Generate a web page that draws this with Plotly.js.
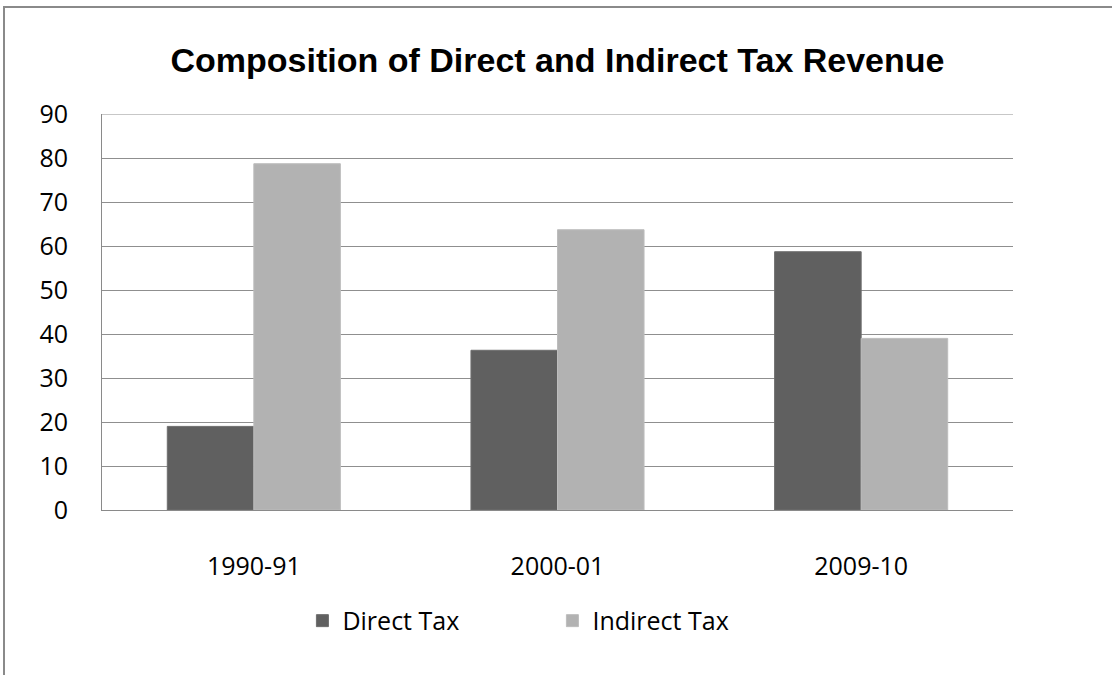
<!DOCTYPE html>
<html>
<head>
<meta charset="utf-8">
<script src="https://cdn.plot.ly/plotly-3.0.1.min.js"></script>
<style>
  html, body { margin: 0; padding: 0; background: #fff; }
  #wrap { position: relative; width: 1112px; height: 675px; }
  #chart { width: 1112px; height: 675px; }
  #frame { position: absolute; left: 3px; top: 6px; width: 1109px; height: 669px;
           border-top: 2px solid #8a8a8a; border-left: 2px solid #8a8a8a; pointer-events: none; box-sizing: border-box; }
</style>
</head>
<body>
<div id="wrap">
  <div id="chart"></div>
  <div id="frame"></div>
</div>
<script>
const categories = ["1990-91", "2000-01", "2009-10"];
const directTax = [19, 36.3, 58.7];
const indirectTax = [78.7, 63.7, 39];
const yTicks = [0, 10, 20, 30, 40, 50, 60, 70, 80, 90];

const tickFont = { family: "Open Sans, Liberation Sans, sans-serif", size: 25, color: "#000" };

const data = [
  { type: "bar", name: "Direct Tax", x: categories, y: directTax,
    marker: { color: "#606060", line: { color: "#6e6e6e", width: 1 } } },
  { type: "bar", name: "Indirect Tax", x: categories, y: indirectTax,
    marker: { color: "#b2b2b2", line: { color: "#bdbdbd", width: 1 } } }
];

const layout = {
  width: 1112, height: 675,
  margin: { l: 102, r: 99, t: 114, b: 165 },
  paper_bgcolor: "#fff", plot_bgcolor: "#fff",
  barmode: "group", bargap: 0.43, bargroupgap: 0,
  title: { text: "<b>Composition of Direct and Indirect Tax Revenue</b>",
           font: { family: "Liberation Sans, Arial, sans-serif", size: 34, color: "#000" },
           x: 0.5, xanchor: "center", xref: "paper", y: 0.911, yref: "container", yanchor: "middle" },
  xaxis: { type: "category", tickfont: tickFont, showgrid: false, showline: true,
           linecolor: "#8a8a8a", linewidth: 1, ticks: "", ticklabelstandoff: 34, fixedrange: true },
  yaxis: { range: [0, 90], tickvals: yTicks, ticktext: yTicks.map(String), tickfont: tickFont,
           showgrid: true, gridcolor: "#8f8f8f", gridwidth: 1, zeroline: false,
           showline: true, linecolor: "#8a8a8a", linewidth: 1, ticks: "", ticklabelstandoff: 28,
           fixedrange: true },
  showlegend: true,
  legend: { orientation: "h", x: 0.22, xanchor: "left", y: -0.28, yanchor: "middle",
            font: tickFont, entrywidth: 205, entrywidthmode: "pixels", traceorder: "normal",
            itemwidth: 30 },
  shapes: [
    { type: "line", xref: "paper", yref: "y", x0: 0, x1: 1, y0: 90, y1: 90,
      line: { color: "#8f8f8f", width: 1 } }
  ]
};

Plotly.newPlot("chart", data, layout, { displayModeBar: false, staticPlot: true });
</script>
</body>
</html>
